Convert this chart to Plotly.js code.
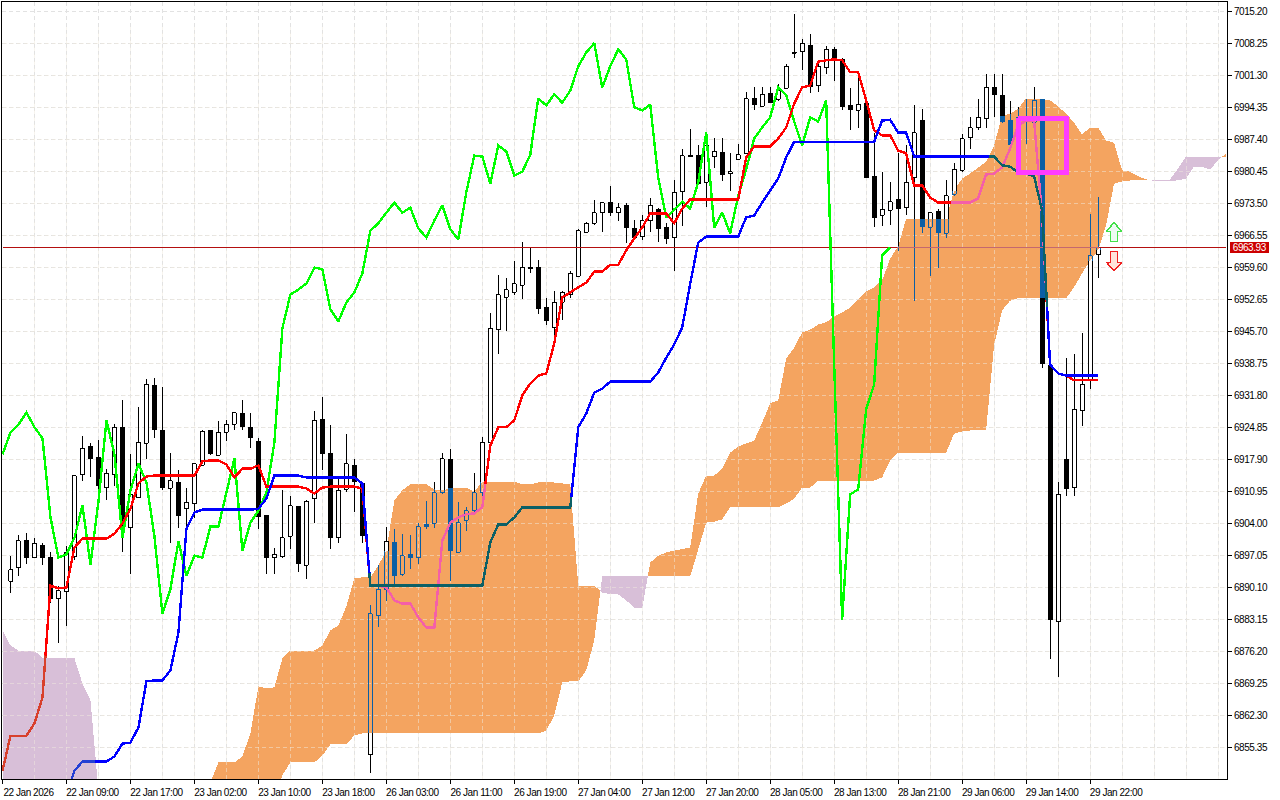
<!DOCTYPE html>
<html>
<head>
<meta charset="utf-8">
<script src="https://cdn.plot.ly/plotly-3.0.1.min.js"></script>
<style>
html,body{margin:0;padding:0;background:#fff;overflow:hidden}
#chart{width:1280px;height:800px}
#chart .scatterlayer .js-line,#chart .scatterlayer .js-fill{shape-rendering:crispEdges}
#chart .xtick text,#chart .ytick text,#chart .annotation-text{letter-spacing:-0.45px}
</style>
</head>
<body>
<div id="chart"></div>
<script>
// Hourly bars, index 0 = "22 Jan 2026"
const high=[null,6897.0,6901.4,6902.0,6900.9,6899.7,6897.7,6890.5,6899.2,6914.6,6923.1,6921.4,6922.2,6915.9,6925.5,6930.9,6919.0,6929.2,6935.3,6935.7,6933.7,6919.4,6915.7,6911.6,6917.0,6924.2,6924.4,6926.2,6926.4,6928.1,6930.9,6927.9,6922.5,6905.9,6898.6,6911.2,6909.9,6907.9,6909.2,6928.5,6931.4,6925.3,6913.8,6923.5,6917.9,6913.1,6886.4,6894.9,6903.3,6902.9,6901.8,6901.4,6904.0,6908.8,6912.9,6919.2,6920.1,6908.6,6907.5,6914.9,6922.7,6949.8,6957.9,6957.4,6960.9,6965.2,6963.9,6961.3,6952.9,6954.4,6954.4,6958.9,6967.9,6969.4,6974.2,6973.9,6977.4,6973.5,6973.5,6970.0,6970.9,6974.6,6972.6,6969.2,6978.5,6985.4,6989.6,6986.1,6988.7,6987.8,6987.8,6984.4,6986.5,6997.8,6998.9,6998.7,6998.7,6999.4,7003.9,7014.6,7009.3,7010.4,7004.6,7007.8,7007.4,7005.2,6998.5,7000.9,6996.5,6988.9,6980.4,6978.1,6984.4,6986.3,6994.8,6994.1,6971.5,6972.4,6978.5,6982.2,6988.5,6992.2,6996.3,7001.7,7001.7,7001.7,6995.7,6994.4,6996.3,6998.9,6996.3,6938.5,6912.9,6940.0,6940.9,6945.3,6971.3,6974.8];
const low=[null,6889.0,6892.7,6895.3,6896.4,6894.9,6886.8,6878.1,6881.8,6896.0,6913.3,6914.0,6911.2,6909.0,6912.2,6897.7,6893.0,6909.6,6918.1,6922.5,6911.2,6899.7,6903.1,6903.1,6905.1,6916.6,6918.8,6918.8,6922.0,6924.4,6924.4,6920.3,6902.9,6893.0,6893.0,6896.4,6898.4,6893.4,6892.0,6904.2,6915.7,6898.4,6899.7,6910.9,6906.4,6899.7,6849.7,6881.6,6887.1,6890.5,6892.7,6894.2,6895.1,6902.7,6903.1,6910.5,6891.6,6897.5,6902.3,6906.4,6908.8,6921.6,6940.9,6945.7,6953.7,6952.7,6958.5,6949.4,6947.2,6944.2,6948.3,6952.9,6957.7,6967.0,6968.9,6967.4,6970.7,6969.8,6965.0,6965.5,6965.5,6967.4,6965.2,6964.8,6958.9,6968.7,6983.7,6977.8,6972.8,6981.3,6978.3,6976.3,6983.1,6984.4,6993.7,6994.4,6995.4,6995.7,6998.5,7005.0,7002.4,6997.4,6997.8,7001.7,7000.2,6993.7,6989.4,6989.8,6979.1,6968.5,6968.7,6968.9,6963.1,6970.9,6952.4,6967.0,6957.7,6959.4,6965.9,6975.2,6980.4,6985.4,6989.4,6990.0,6992.2,6990.9,6985.0,6989.8,6986.5,6987.2,6937.7,6874.5,6870.6,6909.9,6909.9,6925.1,6933.3,6957.4];
const open=[null,6891.4,6894.4,6900.5,6896.6,6899.4,6896.8,6887.7,6889.2,6896.8,6914.6,6920.9,6918.5,6911.8,6914.6,6924.9,6903.1,6909.6,6921.4,6934.0,6924.4,6911.6,6913.1,6907.2,6908.3,6916.6,6924.4,6918.8,6923.8,6925.5,6927.9,6924.9,6922.0,6905.9,6896.6,6896.8,6901.2,6907.9,6894.9,6909.4,6926.6,6919.4,6900.9,6911.4,6916.8,6912.7,6853.8,6884.0,6889.7,6899.9,6893.0,6897.3,6896.6,6903.8,6904.0,6910.7,6917.9,6897.7,6904.7,6906.8,6910.7,6921.6,6946.1,6953.1,6954.2,6955.7,6959.6,6959.6,6951.1,6946.6,6952.0,6953.7,6957.7,6967.2,6969.2,6971.5,6973.9,6971.5,6973.1,6968.1,6966.3,6969.8,6972.2,6968.3,6966.1,6976.1,6984.1,6984.1,6978.1,6983.7,6984.6,6980.0,6983.1,6984.4,6996.5,6994.6,6997.4,6996.1,6998.5,7006.1,7006.5,7008.0,6999.1,7003.0,7007.0,7004.8,6994.8,6993.7,6995.4,6979.4,6970.9,6972.0,6974.4,6972.6,6979.1,6991.7,6968.3,6971.8,6967.0,6975.5,6980.7,6987.8,6990.0,6991.9,6998.7,6997.0,6991.7,6991.5,6991.9,6991.1,6996.1,6938.5,6882.7,6917.9,6911.8,6928.5,6935.1,6962.4];
const close=[null,6894.0,6900.3,6896.6,6899.7,6896.6,6887.7,6889.4,6897.7,6914.4,6920.3,6918.1,6912.2,6914.9,6924.9,6903.6,6910.3,6921.6,6934.2,6924.4,6911.8,6913.3,6905.7,6908.6,6917.0,6924.0,6919.0,6923.8,6925.5,6928.1,6924.9,6922.5,6905.3,6896.6,6897.3,6900.9,6907.9,6895.1,6908.8,6926.4,6919.0,6900.9,6911.2,6917.0,6912.9,6901.2,6884.4,6889.7,6900.1,6892.7,6897.0,6896.6,6903.3,6903.3,6910.7,6918.1,6898.1,6904.2,6906.8,6910.7,6921.6,6946.4,6953.7,6954.8,6956.1,6959.6,6959.2,6950.5,6947.9,6952.0,6954.2,6958.3,6967.6,6969.2,6971.5,6973.7,6971.5,6972.6,6968.1,6966.1,6969.8,6973.1,6967.9,6965.7,6975.9,6983.9,6983.7,6977.8,6986.1,6984.8,6979.6,6980.4,6984.1,6996.3,6994.8,6997.2,6995.4,6998.0,7003.3,7006.3,7008.3,6998.7,7003.3,7007.0,7004.8,6994.4,6993.7,6995.0,6979.1,6970.4,6972.2,6973.9,6972.4,6978.1,6988.9,6968.3,6971.5,6967.0,6975.2,6980.9,6987.6,6990.0,6992.2,6998.7,6997.0,6991.3,6986.1,6992.2,6991.3,6995.9,6938.7,6883.1,6910.3,6911.4,6928.8,6934.2,6962.2,6963.93];

// Ichimoku lines
const tenkan=[6850.3,6857.9,6857.9,6857.9,6860.6,6866.2,6890.5,6889.9,6890.1,6898.8,6900.7,6900.7,6900.7,6900.7,6901.8,6904.0,6907.2,6912.7,6914.2,6914.4,6914.4,6914.4,6914.4,6914.4,6914.4,6917.5,6917.7,6917.7,6916.8,6914.0,6915.9,6915.9,6916.6,6912.0,6912.0,6912.0,6912.0,6912.0,6911.6,6910.5,6911.8,6912.0,6912.0,6912.0,6912.0,6911.6,6890.5,6890.5,6890.1,6887.3,6886.6,6886.6,6883.6,6881.4,6881.4,6900.3,6904.2,6905.3,6906.0,6906.2,6907.5,6920.9,6924.9,6924.9,6926.4,6931.8,6934.4,6936.1,6936.6,6943.1,6953.1,6954.2,6955.3,6956.3,6958.7,6958.7,6960.2,6960.2,6963.3,6965.9,6968.3,6971.3,6971.3,6971.3,6969.2,6972.4,6974.4,6974.4,6974.4,6974.4,6974.4,6974.4,6974.4,6983.5,6985.9,6985.9,6985.9,6987.6,6990.0,6995.2,6998.7,6999.1,7004.3,7004.6,7004.8,7004.6,7002.0,7002.0,6995.9,6989.4,6988.3,6988.3,6985.0,6984.4,6977.4,6977.4,6974.8,6973.7,6973.7,6973.7,6973.7,6973.7,6974.6,6979.8,6980.0,6981.3,6985.4,6990.4,6991.5,6991.5,6970.9,6938.5,6936.6,6936.1,6935.1,6935.1,6935.1,6935.1];
const kijun=[null,null,null,null,null,null,null,null,6845.1,6850.3,6852.3,6852.3,6852.3,6852.3,6853.4,6856.2,6856.4,6859.7,6869.7,6869.9,6869.9,6872.1,6880.3,6902.9,6906.4,6907.0,6907.0,6907.0,6907.0,6907.0,6907.0,6907.0,6907.2,6909.4,6914.4,6914.4,6914.4,6914.4,6914.0,6914.0,6914.0,6914.0,6914.0,6914.0,6914.0,6912.7,6890.5,6890.5,6890.5,6890.5,6890.5,6890.5,6890.5,6890.5,6890.5,6890.5,6890.5,6890.5,6890.5,6890.5,6890.5,6899.9,6903.8,6903.8,6905.3,6907.5,6907.5,6907.5,6907.5,6907.5,6907.5,6907.5,6924.9,6927.9,6932.4,6933.3,6934.8,6934.8,6934.8,6934.8,6934.8,6934.8,6936.8,6940.0,6942.9,6946.6,6956.1,6965.0,6966.3,6966.3,6966.3,6966.3,6966.3,6970.5,6970.9,6973.7,6976.3,6978.9,6983.5,6986.9,6986.9,6986.9,6986.9,6986.9,6986.9,6986.9,6986.9,6986.9,6986.9,6986.9,6991.5,6991.7,6988.9,6988.9,6983.7,6983.7,6983.7,6983.7,6983.7,6983.7,6983.7,6983.7,6983.7,6983.7,6983.7,6981.8,6981.5,6980.2,6980.0,6979.4,6972.0,6938.5,6936.6,6936.1,6936.1,6936.1,6936.1,6936.1];
const chikou=[6919.0,6923.8,6925.5,6928.1,6924.9,6922.5,6905.3,6896.6,6897.3,6900.9,6907.9,6895.1,6908.8,6926.4,6919.0,6900.9,6911.2,6917.0,6912.9,6901.2,6884.4,6889.7,6900.1,6892.7,6897.0,6896.6,6903.3,6903.3,6910.7,6918.1,6898.1,6904.2,6906.8,6910.7,6921.6,6946.4,6953.7,6954.8,6956.1,6959.6,6959.2,6950.5,6947.9,6952.0,6954.2,6958.3,6967.6,6969.2,6971.5,6973.7,6971.5,6972.6,6968.1,6966.1,6969.8,6973.1,6967.9,6965.7,6975.9,6983.9,6983.7,6977.8,6986.1,6984.8,6979.6,6980.4,6984.1,6996.3,6994.8,6997.2,6995.4,6998.0,7003.3,7006.3,7008.3,6998.7,7003.3,7007.0,7004.8,6994.4,6993.7,6995.0,6979.1,6970.4,6972.2,6973.9,6972.4,6978.1,6988.9,6968.3,6971.5,6967.0,6975.2,6980.9,6987.6,6990.0,6992.2,6998.7,6997.0,6991.3,6986.1,6992.2,6991.3,6995.9,6938.7,6883.1,6910.3,6911.4,6928.8,6934.2,6962.2,6963.93];

// Cloud: orange where senkouA is above senkouB, thistle where below
const senkouA=[6843.8,6843.8,6843.8,6843.8,6843.8,6843.8,6843.8,6843.8,6843.8,6843.8,6843.8,6843.8,6843.8,
null,null,null,null,null,null,null,null,null,null,null,null,null,
6847.7,6852.1,6852.1,6852.1,6853.4,6858.4,6868.6,6868.2,6868.4,6874.7,6876.4,6876.4,6876.4,6876.4,6877.5,6880.8,6881.8,6886.0,6892.1,6892.3,6892.3,6894.9,6898.1,6909.0,6911.2,6912.5,6912.5,6912.5,6911.4,6911.2,6911.6,6911.6,6911.8,6910.9,6913.1,6913.1,6913.1,6913.1,6913.1,6912.5,6912.5,6912.9,6912.9,6912.9,6912.7,6912.5,6890.5,6890.5,6890.5,
6889.0,6888.6,6888.6,6887.3,6885.7,6885.7,
6895.5,6897.0,6897.7,6898.1,6898.4,6898.8,6910.5,6914.4,6914.4,6915.9,6919.4,6920.7,6921.4,6922.0,6925.9,6930.1,6930.7,6939.8,6942.2,6945.5,6946.1,6947.2,6947.7,6949.0,6949.8,6950.9,6952.6,6954.4,6955.3,6956.8,6961.5,6964.2,6970.2,6970.2,6970.2,6970.2,6970.2,6970.2,6976.3,6978.9,6980.0,6981.3,6982.6,6986.1,6992.6,6993.0,6994.1,6996.3,6996.3,6996.1,6995.9,6994.6,6993.0,6991.1,6988.5,6990.0,6990.0,6987.2,6986.7,6980.7,6980.4,6979.4,6978.7,
6978.4,6978.4,6978.5,6978.5,6978.9,6981.5,6981.5,6980.9,6982.8,6984.4];
const senkouB=[6880.8,6877.5,6876.4,6876.4,6876.4,6874.7,6874.7,6874.7,6874.7,6874.7,6869.2,6865.6,6846.0,
null,null,null,null,null,null,null,null,null,null,null,null,null,
6843.8,6843.8,6843.8,6843.8,6843.8,6843.8,6843.8,6843.8,6844.9,6849.3,6852.1,6852.1,6852.1,6852.1,6853.6,6856.0,6856.0,6856.0,6858.0,6858.4,6858.4,6858.4,6858.4,6858.4,6858.4,6858.4,6858.4,6858.4,6858.4,6858.4,6858.4,6858.4,6858.4,6858.4,6858.4,6858.4,6858.4,6858.4,6858.4,6858.4,6858.4,6858.4,6859.0,6862.3,6869.5,6869.7,6869.7,6872.1,6878.6,
6892.7,6892.7,6892.7,6892.7,6892.7,6892.7,
6892.5,6892.5,6892.5,6892.5,6892.5,6892.5,6898.5,6904.2,6904.4,6904.9,6907.5,6907.5,6907.5,6907.5,6907.5,6907.5,6907.5,6908.3,6909.4,6911.8,6911.8,6913.3,6913.3,6913.3,6913.3,6913.3,6913.3,6913.3,6913.3,6914.0,6917.7,6919.4,6919.4,6919.4,6919.4,6919.4,6919.4,6919.4,6923.5,6924.0,6924.2,6924.2,6924.2,6942.7,6950.3,6952.4,6952.9,6952.9,6952.9,6952.9,6952.9,6952.9,6952.9,6955.3,6958.3,6961.1,6963.3,6968.7,6977.8,6978.3,6978.5,6978.7,6978.6,
6978.7,6978.7,6978.7,6981.1,6983.7,6983.7,6983.7,6983.7,6983.7,6983.5];

// Axis ticks
const priceTicks=[7015.20,7008.25,7001.30,6994.35,6987.40,6980.45,6973.50,6966.55,6959.60,6952.65,6945.70,6938.75,6931.80,6924.85,6917.90,6910.95,6904.00,6897.05,6890.10,6883.15,6876.20,6869.25,6862.30,6855.35];
const timeTickIdx=[0,8,16,24,32,40,48,56,64,72,80,88,96,104,112,120,128,136];
const timeTickLabels=['22 Jan 2026','22 Jan 09:00','22 Jan 17:00','23 Jan 02:00','23 Jan 10:00','23 Jan 18:00','26 Jan 03:00','26 Jan 11:00','26 Jan 19:00','27 Jan 04:00','27 Jan 12:00','27 Jan 20:00','28 Jan 05:00','28 Jan 13:00','28 Jan 21:00','29 Jan 06:00','29 Jan 14:00','29 Jan 22:00'];
const gridIdx=[0,4,8,12,16,20,24,28,32,36,40,44,48,52,56,60,64,68,72,76,80,84,88,92,96,100,104,108,112,116,120,124,128,132,136,140,144,148,152];

// Marker rectangle and the two signal arrows
const boxX=[127,133,133,127,127];
const boxY=[6992.0,6992.0,6980.2,6980.2,6992.0];
const upX=[139,139.94,139.44,139.44,138.56,138.56,138.06,139];
const upY=[6969.4,6967.4,6967.4,6965.2,6965.2,6967.4,6967.4,6969.4];
const downX=[139,138.06,138.56,138.56,139.44,139.44,139.94,139];
const downY=[6958.9,6960.7,6960.7,6963.07,6963.07,6960.7,6960.7,6958.9];

const lastPrice=close[close.length-1];
const xEnd=153.125, xStart=-0.0625+0.0;
const yRange=[6848.5,7017.26];

const ORANGE='#F4A460',THISTLE='#D8BFD8',CANDLE_IN='#0B5FA5';
const FONT="'Liberation Sans',Arial,sans-serif";
const GRID='#E2E2E2';

function cloudAt(x){
  let i=Math.floor(x); if(i<0||i>=senkouA.length) return null;
  let t=x-i, j=Math.min(i+1,senkouA.length-1);
  if(senkouA[i]==null||senkouA[j]==null) return null;
  let a=senkouA[i]+(senkouA[j]-senkouA[i])*t, b=senkouB[i]+(senkouB[j]-senkouB[i])*t;
  return a>=b?{k:'o',lo:b,hi:a}:{k:'p',lo:a,hi:b};
}
// cloud polygons
const poly={o:{x:[],y:[]},p:{x:[],y:[]}};
(function(){
  let run=null;
  function flush(){
    if(!run) return;
    const t=poly[run.k];
    const xs=run.x.concat(run.x.slice().reverse(),[run.x[0]]);
    const ys=run.a.concat(run.b.slice().reverse(),[run.a[0]]);
    t.x.push(...xs,null); t.y.push(...ys,null); run=null;
  }
  for(let i=0;i<senkouA.length;i++){
    if(senkouA[i]==null){flush();continue;}
    const k=senkouA[i]>=senkouB[i]?'o':'p';
    if(run&&run.k!==k){
      const d0=senkouA[i-1]-senkouB[i-1],d1=senkouA[i]-senkouB[i],t=d0/(d0-d1);
      const cx=i-1+t,cy=senkouA[i-1]+(senkouA[i]-senkouA[i-1])*t;
      run.x.push(cx);run.a.push(cy);run.b.push(cy);flush();
      run={k:k,x:[cx],a:[cy],b:[cy]};
    }
    if(!run) run={k:k,x:[],a:[],b:[]};
    run.x.push(i);run.a.push(senkouA[i]);run.b.push(senkouB[i]);
  }
  flush();
})();

// split a price span by the orange cloud at that bar
function parts(x,lo,hi){
  const c=cloudAt(x);
  if(!c||c.k!=='o'||hi<=c.lo||lo>=c.hi) return [{lo,hi,inn:false}];
  const r=[];
  if(lo<c.lo) r.push({lo,hi:c.lo,inn:false});
  r.push({lo:Math.max(lo,c.lo),hi:Math.min(hi,c.hi),inn:true});
  if(hi>c.hi) r.push({lo:c.hi,hi,inn:false});
  return r;
}
const blackL={x:[],y:[]},blueL={x:[],y:[]},whiteF={x:[],y:[]},blackF={x:[],y:[]},blueF={x:[],y:[]};
function seg(t,x0,y0,x1,y1){t.x.push(x0,x1,null);t.y.push(y0,y1,null);}
function vert(x,cx,lo,hi){ if(hi<=lo) return; parts(cx,lo,hi).forEach(p=>seg(p.inn?blueL:blackL,x,p.lo,x,p.hi)); }
function rect(t,x0,x1,lo,hi){t.x.push(x0,x1,x1,x0,x0,null);t.y.push(lo,lo,hi,hi,lo,null);}
for(let i=1;i<open.length;i++){
  const top=Math.max(open[i],close[i]),bot=Math.min(open[i],close[i]);
  vert(i,i,top,high[i]); vert(i,i,low[i],bot);
  if(close[i]>=open[i]){
    const w=0.25;
    parts(i,bot,top).forEach(p=>{ if(!p.inn) rect(whiteF,i-w,i+w,p.lo,p.hi); });
    vert(i-w,i,bot,top); vert(i+w,i,bot,top);
    [top,bot].forEach(v=>{const c=cloudAt(i),inn=c&&c.k==='o'&&v>=c.lo&&v<=c.hi; seg(inn?blueL:blackL,i-w,v,i+w,v);});
  }else{
    const w=0.3125;
    parts(i,bot,Math.max(top,bot+0.2)).forEach(p=>rect(p.inn?blueF:blackF,i-w,i+w,p.lo,p.hi));
  }
}
// colour a polyline by what it crosses
function splitLine(xs,ys){
  const b={n:{x:[],y:[]},o:{x:[],y:[]},p:{x:[],y:[]}};
  let last=null;
  for(let i=0;i<xs.length-1;i++){
    if(ys[i]==null||ys[i+1]==null){last=null;continue;}
    const n=Math.max(1,Math.round((xs[i+1]-xs[i])*8));
    for(let s=0;s<n;s++){
      const x0=xs[i]+(xs[i+1]-xs[i])*s/n,x1=xs[i]+(xs[i+1]-xs[i])*(s+1)/n;
      const y0=ys[i]+(ys[i+1]-ys[i])*s/n,y1=ys[i]+(ys[i+1]-ys[i])*(s+1)/n;
      const mx=(x0+x1)/2,my=(y0+y1)/2,c=cloudAt(mx);
      const k=(c&&my>=c.lo&&my<=c.hi)?c.k:'n';
      if(k!==last){ b[k].x.push(null,x0); b[k].y.push(null,y0); last=k; }
      b[k].x.push(x1); b[k].y.push(y1);
    }
  }
  return b;
}
const idx=n=>Array.from({length:n},(_,i)=>i);
const tk=splitLine(idx(tenkan.length),tenkan);
const kj=splitLine(idx(kijun.length),kijun);
const pl=splitLine([0,153],[lastPrice,lastPrice]);

function line(d,color,width,extra){
  return Object.assign({type:'scatter',mode:'lines',x:d.x,y:d.y,line:{color:color,width:width,simplify:false},hoverinfo:'skip',connectgaps:false,cliponaxis:true},extra||{});
}
function fill(d,color){
  return {type:'scatter',mode:'lines',x:d.x,y:d.y,fill:'toself',fillcolor:color,line:{width:0,color:color},hoverinfo:'skip'};
}
// grid veil on top of the cloud
const veil={x:[],y:[]};
priceTicks.slice(1).forEach(v=>{veil.x.push(0,xEnd,null);veil.y.push(v,v,null);});
gridIdx.slice(1).forEach(v=>{veil.x.push(v,v,null);veil.y.push(yRange[0],7011.9,null);});

const LW=2.4;
const traces=[
  fill(poly.o,ORANGE),
  fill(poly.p,THISTLE),
  line(veil,'rgba(240,234,222,0.5)',1,{line:{color:'rgba(240,234,222,0.5)',width:1,dash:'4px,3px'}}),
  fill(whiteF,'#FFFFFF'),
  fill(blackF,'#000000'),
  fill(blueF,CANDLE_IN),
  line(blackL,'#000000',1),
  line(blueL,CANDLE_IN,1),
  line(pl.n,'#B40F0F',1),
  line(pl.o,'#C4686F',1),
  line({x:idx(chikou.length),y:chikou},'#00FF00',LW),
  line(tk.n,'#FF0000',LW),
  line(tk.o,'#F45FA8',LW),
  line(tk.p,'#D8402C',LW),
  line(kj.n,'#0000FF',LW),
  line(kj.o,'#0C6066',LW),
  line(kj.p,'#2440D4',LW),
  line({x:boxX,y:boxY},'#FF3CFF',5),
  {type:'scatter',mode:'lines',x:upX,y:upY,fill:'toself',fillcolor:'#EEFBF4',line:{color:'#44E04A',width:1.5},hoverinfo:'skip'},
  {type:'scatter',mode:'lines',x:downX,y:downY,fill:'toself',fillcolor:'#FFE4DC',line:{color:'#F02020',width:1.5},hoverinfo:'skip'}
];

const tickFont={family:FONT,size:10,color:'#000000'};
const layout={
  width:1280,height:800,
  margin:{l:2,r:53,t:2,b:21,pad:0},
  paper_bgcolor:'#FFFFFF',plot_bgcolor:'#FFFFFF',
  showlegend:false,hovermode:false,dragmode:false,
  xaxis:{
    range:[xStart,xEnd],tickmode:'array',tickvals:timeTickIdx,ticktext:timeTickLabels,tickangle:0,
    ticks:'outside',ticklen:4,tickwidth:1,tickcolor:'#000',tickfont:tickFont,ticklabelshift:26,ticklabelstandoff:0,
    showline:true,linecolor:'#000',linewidth:1,mirror:true,zeroline:false,
    showgrid:true,gridcolor:GRID,griddash:'4px,3px',gridwidth:1,
    minor:{tickvals:gridIdx,showgrid:true,gridcolor:GRID,griddash:'4px,3px',gridwidth:1,ticks:''},
    ticklabeloverflow:'allow',automargin:false
  },
  yaxis:{
    range:yRange,side:'right',tickmode:'array',tickvals:priceTicks,ticktext:priceTicks.map(v=>v.toFixed(2)),
    ticks:'outside',ticklen:4,tickwidth:1,tickcolor:'#000',tickfont:tickFont,
    showline:true,linecolor:'#000',linewidth:1,mirror:true,zeroline:false,
    showgrid:true,gridcolor:GRID,griddash:'4px,3px',gridwidth:1,automargin:false
  },
  shapes:[{type:'rect',xref:'paper',yref:'paper',x0:0,x1:1,y0:0.9691,y1:1,layer:'between',fillcolor:'#FFFFFF',line:{width:0}}],
  annotations:[{
    xref:'paper',yref:'y',x:1.0024,y:lastPrice,xanchor:'left',yanchor:'middle',showarrow:false,
    text:lastPrice.toFixed(2),font:{family:FONT,size:10,color:'#FFFFFF'},
    bgcolor:'#CC0000',width:39,height:11,borderpad:0,borderwidth:0,align:'center'
  }]
};
Plotly.newPlot('chart',traces,layout,{displayModeBar:false,staticPlot:true,responsive:false});
</script>
</body>
</html>
